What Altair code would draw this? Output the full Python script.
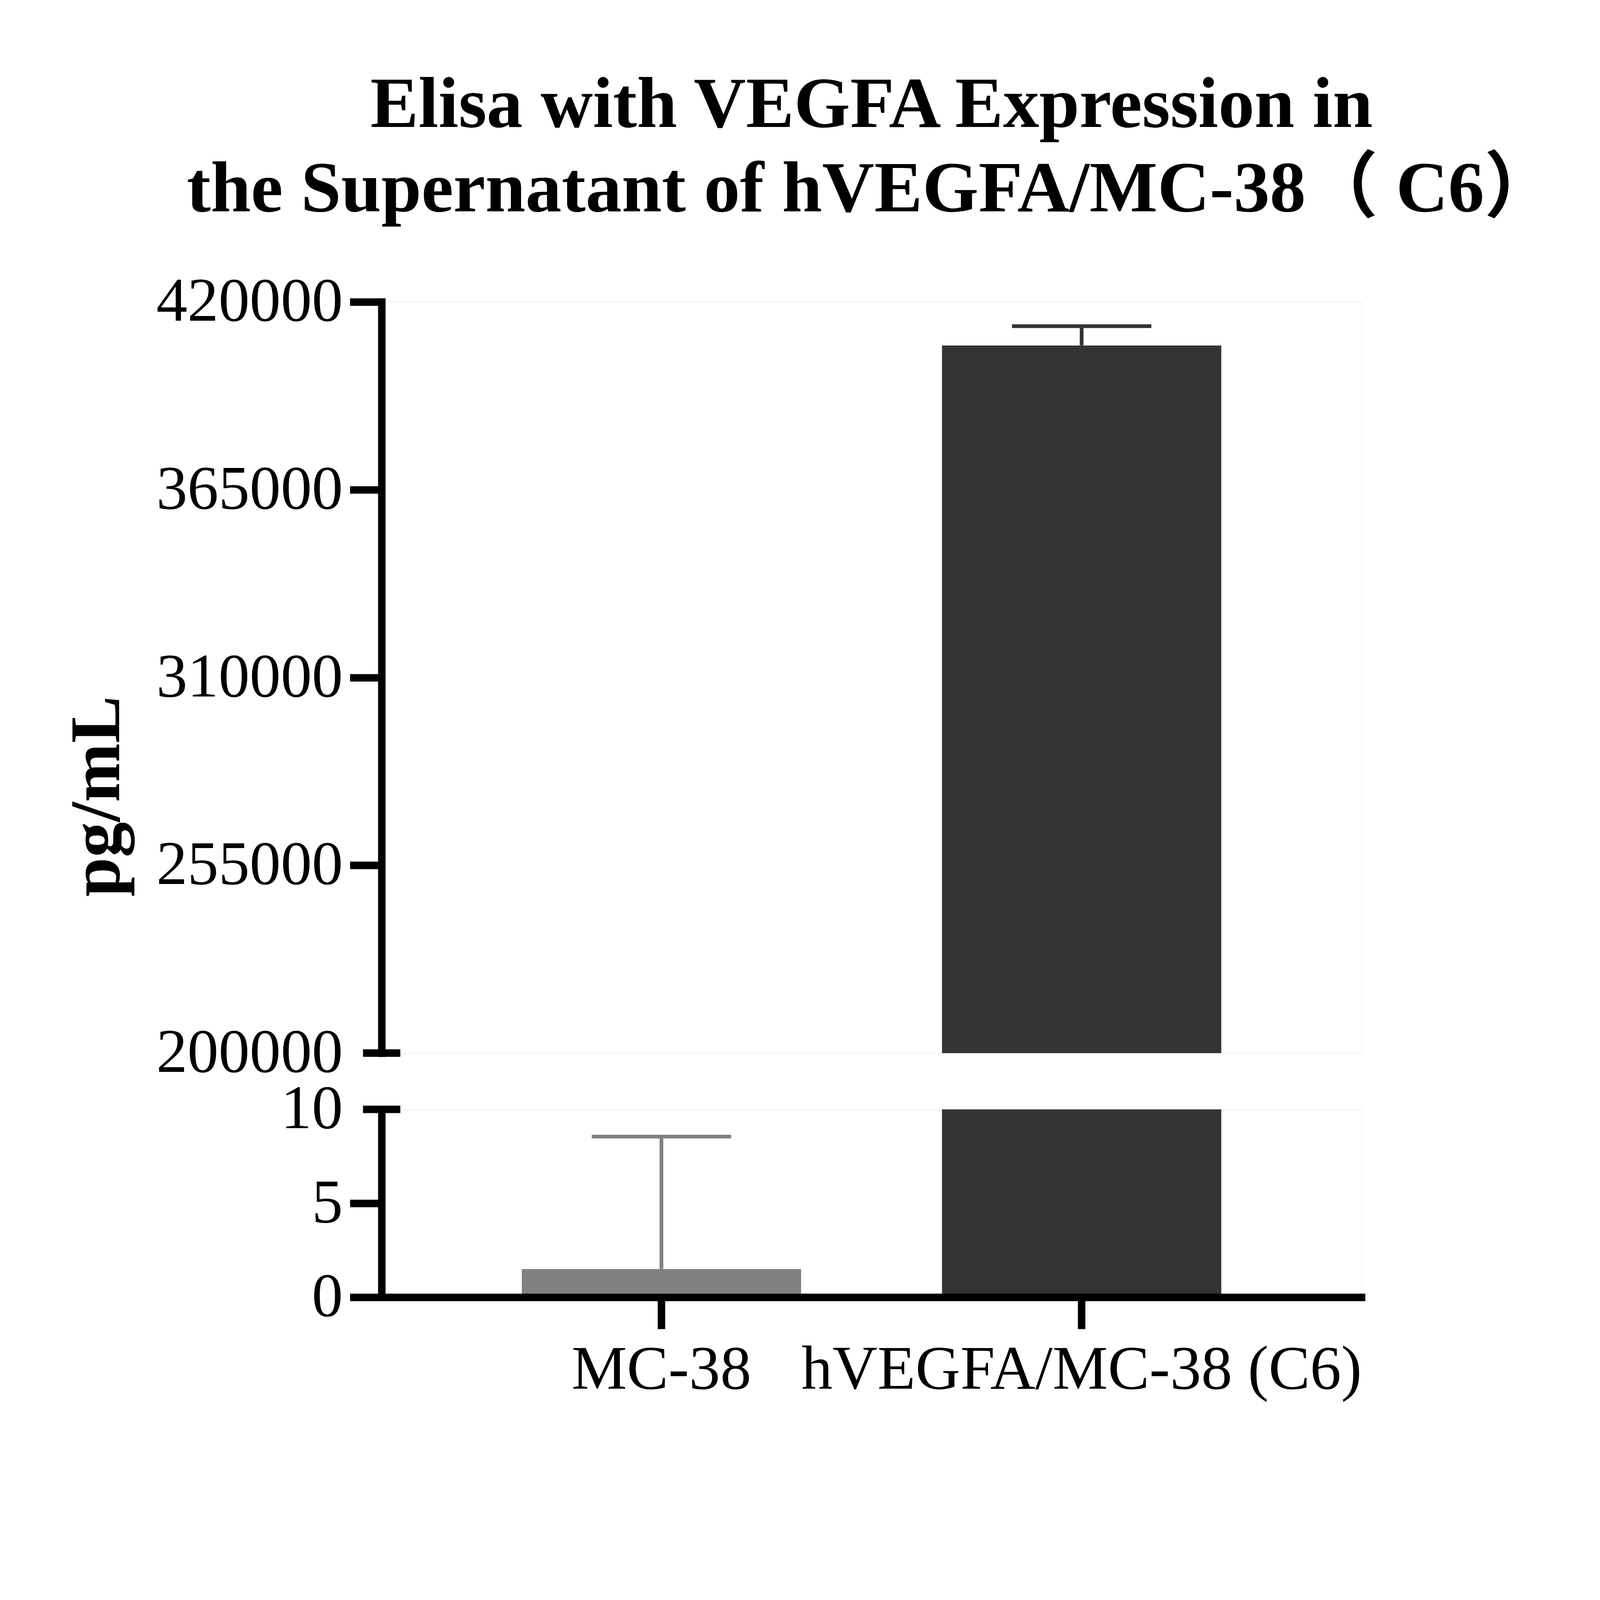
import altair as alt
import pandas as pd

# ---- data ----
categories = ["MC-38", "hVEGFA/MC-38 (C6)"]
means = [1.5, 407250]
sds = [7.05, 5650]
bar_colors = ["#808080", "#333333"]
top_ticks = [200000, 255000, 310000, 365000, 420000]
bottom_ticks = [0, 5, 10]
title_lines = ["Elisa with VEGFA Expression in", "the Supernatant of hVEGFA/MC-38（ C6）"]
y_title = "pg/mL"

df = pd.DataFrame({"cat": categories, "mean": means, "sd": sds})
df["upper"] = df["mean"] + df["sd"]

FONT = "Liberation Serif, Times New Roman, Noto Sans CJK SC"
W = 3150
H_TOP = 2415
H_BOT = 604
BREAK_TOP = 200000
BREAK_BOT = 10

xscale = alt.Scale(domain=categories, paddingInner=0.3353, paddingOuter=0.3335)
cscale = alt.Scale(domain=categories, range=bar_colors)
color = alt.Color("cat:N", scale=cscale, legend=None)

common_axis = dict(
    labelFont=FONT, labelFontSize=200, labelColor="black", labelLimit=0,
    labelOverlap=False, tickSize=102, tickWidth=24, tickColor="black",
    domainColor="black", domainWidth=24, domainCap="square", grid=False, zindex=1,
)

top_axis = alt.Axis(
    values=top_ticks, format="d", title=y_title, titleFont=FONT, titleFontSize=228,
    titleFontWeight="bold", titleColor="black", titleAngle=270, titleX=-844, titleY=1589,
    titleBaseline="alphabetic", titleAlign="center", labelPadding=23,
    tickOpacity={"condition": {"test": "datum.value === %d" % BREAK_TOP, "value": 0}, "value": 1},
    **common_axis,
)
bot_axis = alt.Axis(
    values=bottom_ticks, format="d", title=None, labelPadding=23,
    tickOpacity={"condition": {"test": "datum.value === %d" % BREAK_BOT, "value": 0}, "value": 1},
    **common_axis,
)
x_axis = alt.Axis(title=None, labelAngle=0, labelPadding=33, **common_axis)

ytop = alt.Scale(domain=[BREAK_TOP, 420000], nice=False, zero=False)
ybot = alt.Scale(domain=[0, BREAK_BOT], nice=False, zero=True, clamp=True)

x_hidden = alt.X("cat:N", scale=xscale, sort=categories, axis=None)
x_shown = alt.X("cat:N", scale=xscale, sort=categories, axis=x_axis)

base = alt.Chart(df)

# ---- upper segment ----
top_bars = base.transform_filter("datum.mean >= %d" % BREAK_TOP).mark_bar(opacity=1).encode(
    x=x_hidden, y=alt.Y("mean:Q", scale=ytop, axis=top_axis), y2=alt.datum(BREAK_TOP), color=color
)
top_err = base.transform_filter("datum.mean >= %d" % BREAK_TOP).mark_rule(strokeWidth=12, opacity=1).encode(
    x=x_hidden, y=alt.Y("mean:Q", scale=ytop, axis=top_axis), y2="upper:Q", color=color
)
top_cap = base.transform_filter("datum.mean >= %d" % BREAK_TOP).mark_tick(
    size=448, thickness=12, orient="horizontal", opacity=1
).encode(x=x_hidden, y=alt.Y("upper:Q", scale=ytop, axis=top_axis), color=color)
top_break = base.transform_filter("datum.cat == '%s'" % categories[0]).mark_rule(
    strokeWidth=24, color="black"
).encode(x=alt.value(-60), x2=alt.value(60), y=alt.Y(datum=BREAK_TOP, scale=ytop, axis=top_axis))

top = alt.layer(top_bars, top_err, top_cap, top_break).properties(
    width=W, height=H_TOP,
    title=alt.TitleParams(
        text=title_lines[0], subtitle=title_lines[1],
        font=FONT, fontSize=232, fontWeight="bold", color="black",
        subtitleFont=FONT, subtitleFontSize=232, subtitleFontWeight="bold", subtitleColor="black",
        subtitlePadding=39, anchor="middle", frame="group", offset=142,
    ),
)

# ---- lower segment ----
bot_bars = base.mark_bar(opacity=1).encode(
    x=x_shown, y=alt.Y("mean:Q", scale=ybot, axis=bot_axis), y2=alt.datum(0), color=color
)
bot_err = base.transform_filter("datum.upper <= %d" % BREAK_BOT).mark_rule(strokeWidth=12, opacity=1).encode(
    x=x_shown, y=alt.Y("mean:Q", scale=ybot, axis=bot_axis), y2="upper:Q", color=color
)
bot_cap = base.transform_filter("datum.upper <= %d" % BREAK_BOT).mark_tick(
    size=448, thickness=12, orient="horizontal", opacity=1
).encode(x=x_shown, y=alt.Y("upper:Q", scale=ybot, axis=bot_axis), color=color)
bot_break = base.transform_filter("datum.cat == '%s'" % categories[0]).mark_rule(
    strokeWidth=24, color="black"
).encode(x=alt.value(-60), x2=alt.value(60), y=alt.Y(datum=BREAK_BOT, scale=ybot, axis=bot_axis))

bottom = alt.layer(bot_bars, bot_err, bot_cap, bot_break).properties(width=W, height=H_BOT)

chart = (
    alt.vconcat(top, bottom, spacing=181, bounds="flush")
    .resolve_scale(x="independent", y="independent", color="shared")
    .properties(padding={"left": 190, "top": -259, "right": 129, "bottom": -345})
    .configure_view(stroke="transparent", strokeWidth=0)
    .configure(background="white")
)

chart.save("out.html", embed_options={"renderer": "svg", "actions": False})
